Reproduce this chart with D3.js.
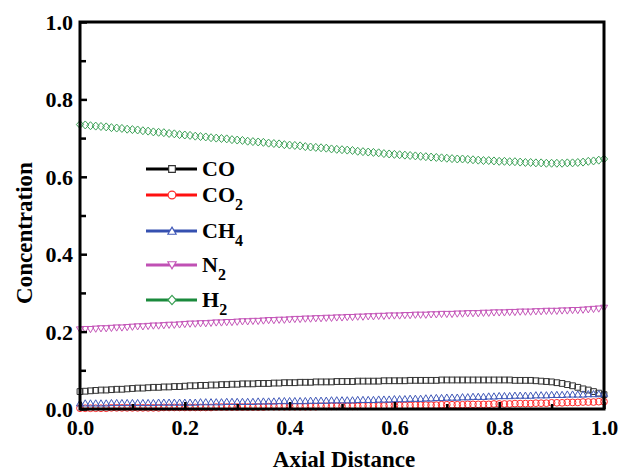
<!DOCTYPE html>
<html>
<head>
<meta charset="utf-8">
<script src="https://cdn.jsdelivr.net/npm/d3@7"></script>
<style>
  body { margin: 0; background: #fff; }
  text { font-family: "Liberation Serif", "Times New Roman", serif; font-weight: bold; fill: #000; }
</style>
</head>
<body>
<svg width="619" height="473"></svg>
<script>
// sample positions along the reactor (0 .. 1, step 0.01)
var axial = d3.range(0, 101).map(function(i) { return i / 100; });

var co = [
  0.045,0.046,0.047,0.048,0.049,0.049,0.050,0.051,0.051,0.052,
  0.053,0.054,0.054,0.055,0.056,0.056,0.057,0.057,0.058,0.058,
  0.059,0.060,0.060,0.061,0.061,0.062,0.062,0.063,0.063,0.064,
  0.064,0.065,0.065,0.065,0.066,0.066,0.066,0.067,0.067,0.068,
  0.068,0.068,0.069,0.069,0.069,0.070,0.070,0.070,0.070,0.071,
  0.071,0.071,0.071,0.072,0.072,0.072,0.072,0.072,0.073,0.073,
  0.073,0.073,0.073,0.074,0.074,0.074,0.074,0.074,0.074,0.075,
  0.075,0.075,0.075,0.075,0.075,0.075,0.075,0.075,0.075,0.075,
  0.075,0.075,0.075,0.074,0.074,0.074,0.074,0.073,0.072,0.071,
  0.070,0.068,0.066,0.063,0.060,0.056,0.052,0.049,0.045,0.041,
  0.037];

var co2 = [
  0.002,0.002,0.002,0.002,0.002,0.002,0.003,0.003,0.003,0.003,
  0.003,0.003,0.003,0.003,0.003,0.003,0.004,0.004,0.004,0.004,
  0.004,0.004,0.004,0.004,0.004,0.004,0.005,0.005,0.005,0.005,
  0.005,0.005,0.005,0.005,0.005,0.005,0.006,0.006,0.006,0.006,
  0.006,0.006,0.006,0.006,0.006,0.006,0.007,0.007,0.007,0.007,
  0.007,0.007,0.007,0.007,0.008,0.008,0.008,0.008,0.008,0.009,
  0.009,0.009,0.009,0.009,0.010,0.010,0.010,0.010,0.010,0.011,
  0.011,0.011,0.011,0.011,0.012,0.012,0.012,0.012,0.012,0.013,
  0.013,0.013,0.013,0.014,0.014,0.014,0.014,0.015,0.015,0.015,
  0.016,0.016,0.016,0.017,0.017,0.017,0.018,0.018,0.018,0.019,
  0.019];

var ch4 = [
  0.015,0.015,0.015,0.015,0.015,0.015,0.016,0.016,0.016,0.016,
  0.016,0.016,0.016,0.016,0.016,0.017,0.017,0.017,0.017,0.017,
  0.017,0.017,0.017,0.018,0.018,0.018,0.018,0.018,0.019,0.019,
  0.019,0.019,0.019,0.019,0.020,0.020,0.020,0.020,0.021,0.021,
  0.021,0.021,0.021,0.021,0.022,0.022,0.022,0.022,0.023,0.023,
  0.023,0.023,0.023,0.024,0.024,0.024,0.024,0.025,0.025,0.025,
  0.026,0.026,0.026,0.027,0.027,0.027,0.028,0.028,0.029,0.029,
  0.030,0.030,0.030,0.031,0.031,0.032,0.032,0.032,0.033,0.033,
  0.034,0.034,0.034,0.035,0.035,0.035,0.035,0.036,0.036,0.036,
  0.037,0.037,0.037,0.038,0.038,0.038,0.038,0.039,0.039,0.039,
  0.040];

var n2 = [
  0.205,0.206,0.206,0.207,0.208,0.208,0.209,0.210,0.210,0.211,
  0.212,0.213,0.213,0.214,0.215,0.215,0.216,0.217,0.217,0.218,
  0.219,0.220,0.220,0.221,0.221,0.222,0.223,0.223,0.224,0.224,
  0.225,0.226,0.226,0.227,0.227,0.228,0.229,0.229,0.230,0.230,
  0.231,0.232,0.232,0.233,0.233,0.234,0.234,0.235,0.235,0.236,
  0.236,0.237,0.237,0.238,0.238,0.239,0.239,0.240,0.240,0.241,
  0.241,0.241,0.242,0.242,0.243,0.243,0.243,0.244,0.244,0.245,
  0.245,0.245,0.246,0.246,0.247,0.247,0.247,0.248,0.248,0.249,
  0.249,0.249,0.250,0.250,0.251,0.251,0.251,0.252,0.252,0.253,
  0.253,0.253,0.254,0.254,0.255,0.255,0.256,0.257,0.258,0.259,
  0.261];

var h2 = [
  0.735,0.734,0.732,0.731,0.730,0.729,0.727,0.726,0.725,0.723,
  0.722,0.721,0.719,0.718,0.716,0.715,0.714,0.712,0.711,0.709,
  0.708,0.707,0.705,0.704,0.703,0.701,0.700,0.699,0.698,0.696,
  0.695,0.694,0.692,0.691,0.690,0.689,0.687,0.686,0.685,0.683,
  0.682,0.681,0.680,0.678,0.677,0.676,0.675,0.674,0.672,0.671,
  0.670,0.669,0.668,0.666,0.665,0.664,0.663,0.662,0.660,0.659,
  0.658,0.657,0.656,0.655,0.654,0.653,0.652,0.651,0.650,0.649,
  0.648,0.647,0.646,0.646,0.645,0.644,0.643,0.642,0.642,0.641,
  0.640,0.640,0.639,0.639,0.638,0.637,0.637,0.636,0.636,0.635,
  0.635,0.635,0.635,0.636,0.636,0.637,0.638,0.640,0.641,0.643,
  0.646];

var names = ["CO", "CO2", "CH4", "N2", "H2"];
var labelMain = ["CO", "CO", "CH", "N", "H"];
var labelSub = ["", "2", "4", "2", "2"];
var values = [co, co2, ch4, n2, h2];
var lineColors = ["#000000", "#ff1010", "#3550b0", "#c050b4", "#1a8a3c"];
var markColors = ["#333333", "#ff2a2a", "#4058b8", "#c455b8", "#3aa055"];
var symbols = ["square", "circle", "triangle", "tri-down", "diamond"];

var xTicks = [0, 0.2, 0.4, 0.6, 0.8, 1.0];
var yTicks = [0, 0.2, 0.4, 0.6, 0.8, 1.0];

var svg = d3.select("svg"),
    margin = {left: 80, top: 22, right: 15, bottom: 64},
    width = +svg.attr("width") - margin.left - margin.right,
    height = +svg.attr("height") - margin.top - margin.bottom;

var g = svg.append("g").attr("transform", "translate(" + margin.left + "," + margin.top + ")");

var x = d3.scaleLinear().domain([0, 1]).range([0, width]);
var y = d3.scaleLinear().domain([0, 1]).range([height, 0]);

// marker shapes, drawn as paths centred on 0,0
function markerPath(i) {
  var s = symbols[i];
  if (s === "square") return "M-2.9,-2.9H2.9V2.9H-2.9Z";
  if (s === "circle") return d3.symbol().type(d3.symbolCircle).size(36)();
  if (s === "triangle") return "M0,-3.4L3.6,2.8L-3.6,2.8Z";
  if (s === "tri-down") return "M-3.6,-2.8L3.6,-2.8L0,3.4Z";
  return "M0,-4L3.6,0L0,4L-3.6,0Z";
}

// data markers
names.forEach(function(name, i) {
  g.append("g")
    .attr("class", "series")
    .selectAll("path")
    .data(axial.map(function(a, j) { return [a, values[i][j]]; }))
    .enter().append("path")
      .attr("d", markerPath(i))
      .attr("transform", function(d) { return "translate(" + x(d[0]) + "," + y(d[1]) + ")"; })
      .attr("fill", "none")
      .attr("stroke", markColors[i])
      .attr("stroke-width", 1);
});

// minor ticks
g.append("g")
  .attr("transform", "translate(0," + height + ")")
  .call(d3.axisBottom(x).tickValues(d3.range(0.1, 1, 0.2)).tickSize(-5).tickFormat(""))
  .call(function(a) { a.select(".domain").remove(); a.selectAll("line").attr("stroke-width", 2.5); });
g.append("g")
  .call(d3.axisLeft(y).tickValues(d3.range(0.1, 1, 0.2)).tickSize(-6).tickFormat(""))
  .call(function(a) { a.select(".domain").remove(); a.selectAll("line").attr("stroke-width", 2.5); });

// major ticks and labels
var xAxis = g.append("g")
  .attr("transform", "translate(0," + height + ")")
  .call(d3.axisBottom(x).tickValues(xTicks).tickSize(-7).tickPadding(10).tickFormat(d3.format(".1f")));
var yAxis = g.append("g")
  .call(d3.axisLeft(y).tickValues(yTicks).tickSize(-7).tickPadding(7).tickFormat(d3.format(".1f")));

[xAxis, yAxis].forEach(function(a) {
  a.select(".domain").remove();
  a.selectAll("line").attr("stroke-width", 2.5);
  a.selectAll("text")
    .style("font-family", "'Liberation Serif', serif")
    .style("font-weight", "bold")
    .style("font-size", "22px")
    .attr("fill", "#000");
});
yAxis.selectAll("text").attr("dy", "0.34em");

// frame
g.append("rect")
  .attr("width", width)
  .attr("height", height)
  .attr("fill", "none")
  .attr("stroke", "#000")
  .attr("stroke-width", 3);

// axis titles
svg.append("text")
  .attr("x", margin.left + width / 2 + 2)
  .attr("y", 467)
  .attr("text-anchor", "middle")
  .style("font-size", "23px")
  .text("Axial Distance");

svg.append("text")
  .attr("transform", "translate(32,233) rotate(-90)")
  .attr("text-anchor", "middle")
  .style("font-size", "23px")
  .text("Concentration");

// legend
var legendY = [169, 195, 231, 265, 300];
var legend = svg.append("g").attr("class", "legend");
names.forEach(function(name, i) {
  var row = legend.append("g").attr("transform", "translate(146," + legendY[i] + ")");
  row.append("line")
    .attr("x1", 0).attr("x2", 51)
    .attr("stroke", lineColors[i])
    .attr("stroke-width", 3);
  row.append("path")
    .attr("d", markerPath(i))
    .attr("transform", "translate(26,0) scale(1.15)")
    .attr("fill", "#fff")
    .attr("stroke", markColors[i])
    .attr("stroke-width", 1);
  var t = row.append("text")
    .attr("x", 56)
    .attr("y", 7)
    .style("font-size", "22px")
    .text(labelMain[i]);
  if (labelSub[i]) {
    t.append("tspan")
      .attr("dy", 8)
      .style("font-size", "16px")
      .text(labelSub[i]);
  }
});
</script>
</body>
</html>
